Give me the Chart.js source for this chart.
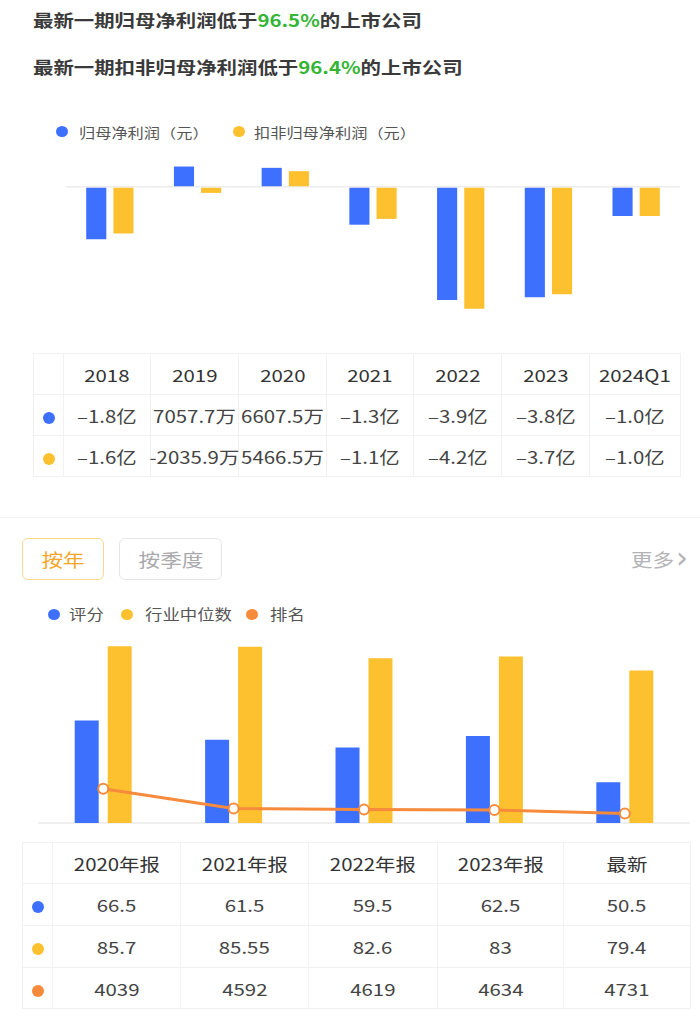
<!DOCTYPE html>
<html>
<head>
<meta charset="utf-8">
<script src="https://cdn.jsdelivr.net/npm/chart.js@4/dist/chart.umd.min.js"></script>
<style>
  body{margin:0;width:700px;height:1020px;background:#fff;position:relative;overflow:hidden;
       font-family:"Noto Sans CJK SC","Noto Sans",sans-serif;}
  .abs{position:absolute;white-space:nowrap;}
  .sx{display:inline-block;transform:scaleX(1.2);}
  .sxl{display:inline-block;transform:scaleX(1.2);transform-origin:0 50%;}
  .title{left:33px;font-size:17px;font-weight:bold;color:#3a3a3a;line-height:24px;}
  .title em{font-style:normal;color:#35b535;}
  .lg{font-size:13.5px;color:#555;line-height:20px;}
  .lg2{font-size:14.5px;color:#555;line-height:20px;}
  .dot{position:absolute;width:12px;height:11px;border-radius:50%;}
  table{position:absolute;border-collapse:collapse;table-layout:fixed;}
  td{border:1px solid #f1f1f1;text-align:center;padding:0;font-size:17px;color:#444;white-space:nowrap;overflow:visible;position:relative;}
  tr.hd td{color:#333;}
  td .cd{display:inline-block;width:12px;height:12px;border-radius:50%;vertical-align:middle;}
  .btn{position:absolute;top:538px;height:40px;border-radius:6px;font-size:18px;line-height:40px;text-align:center;}
</style>
</head>
<body>
<div class="abs title" style="top:8px"><span class="sxl">最新一期归母净利润低于<em>96.5%</em>的上市公司</span></div>
<div class="abs title" style="top:55px"><span class="sxl">最新一期扣非归母净利润低于<em>96.4%</em>的上市公司</span></div>

<!-- 图例：利润 -->
<div class="dot" style="left:56px;top:126px;background:#3d70fd"></div>
<div class="abs lg" style="left:79px;top:122px"><span class="sxl">归母净利润（元）</span></div>
<div class="dot" style="left:233px;top:126px;background:#fdc130"></div>
<div class="abs lg" style="left:254px;top:122px"><span class="sxl">扣非归母净利润（元）</span></div>

<div class="abs" style="left:0;top:150px;width:700px;height:190px"><canvas id="profitChart"></canvas></div>
<table id="profitTable" style="left:33px;top:353px"></table>

<div class="abs" style="left:0;top:517px;width:700px;height:1px;background:#f4f4f4"></div>

<div class="btn" style="left:22px;width:80px;border:1px solid #f8d88e;color:#f4a62a"><span class="sx">按年</span></div>
<div class="btn" style="left:119px;width:101px;border:1px solid #e6e6e8;color:#a9a9ad"><span class="sx">按季度</span></div>
<div class="abs" style="left:631px;top:546px;font-size:18px;line-height:26px;color:#b3b3b6"><span class="sxl">更多</span></div>
<div class="abs" style="left:676px;top:538px;font-size:30px;line-height:40px;color:#b3b3b6;font-family:'DejaVu Sans'">›</div>

<!-- 图例：评分 -->
<div class="dot" style="left:48px;top:609px;background:#3d70fd"></div>
<div class="abs lg2" style="left:69px;top:604px"><span class="sxl">评分</span></div>
<div class="dot" style="left:121px;top:609px;background:#fdc130"></div>
<div class="abs lg2" style="left:145px;top:604px"><span class="sxl">行业中位数</span></div>
<div class="dot" style="left:246px;top:609px;background:#f58b3b"></div>
<div class="abs lg2" style="left:270px;top:604px"><span class="sxl">排名</span></div>

<div class="abs" style="left:0;top:630px;width:700px;height:200px"><canvas id="scoreChart"></canvas></div>
<table id="scoreTable" style="left:22px;top:842px"></table>

<script>
// ---- 利润数据（单位：亿元）----
const profitYears = ["2018","2019","2020","2021","2022","2023","2024Q1"];
const netProfit = [-1.8, 0.70577, 0.66075, -1.3, -3.9, -3.8, -1.0];
const deductedProfit = [-1.6, -0.20359, 0.54665, -1.1, -4.2, -3.7, -1.0];
const profitAxisRange = [-5, 1];

// ---- 评分数据 ----
const scoreCats = ["2020年报","2021年报","2022年报","2023年报","最新"];
const scores = [66.5, 61.5, 59.5, 62.5, 50.5];
const industryMedian = [85.7, 85.55, 82.6, 83, 79.4];
const ranks = [4039, 4592, 4619, 4634, 4731];
const scoreAxisRange = [40, 86];
const rankAxisRange = [0, 5000];

const BLUE = "#3d70fd", YELLOW = "#fdc130", ORANGE = "#f58b3b";

function fmtYi(v){
  if(Math.abs(v) >= 1) return (v<0?"–":"") + Math.abs(v).toFixed(1) + "亿";
  return (v*10000).toFixed(1) + "万";
}

function buildTable(id, colWidths, rowHeights, header, rows){
  const t = document.getElementById(id);
  let html = "<colgroup>" + colWidths.map(w=>`<col style="width:${w}px">`).join("") + "</colgroup>";
  html += `<tr class="hd" style="height:${rowHeights[0]}px"><td></td>` +
    header.map(h=>`<td><span class="sx">${h}</span></td>`).join("") + "</tr>";
  rows.forEach((r,i)=>{
    html += `<tr style="height:${rowHeights[i+1]}px"><td><span class="cd" style="background:${r.color}"></span></td>` +
      r.cells.map(c=>`<td><span class="sx">${c}</span></td>`).join("") + "</tr>";
  });
  t.innerHTML = html;
}

buildTable("profitTable", [30,87,88,88,87,88,88,91], [41,41,41], profitYears, [
  {color:BLUE, cells:netProfit.map(fmtYi)},
  {color:YELLOW, cells:deductedProfit.map(fmtYi)},
]);
buildTable("scoreTable", [30,128,128,129,126,127], [41,42,42,41], scoreCats, [
  {color:BLUE, cells:scores.map(String)},
  {color:YELLOW, cells:industryMedian.map(String)},
  {color:ORANGE, cells:ranks.map(String)},
]);

// 只画某一个刻度值的网格线（零线 / 底线）
function onlyLineAt(val, color){
  return ctx => ctx.tick && ctx.tick.value === val ? color : "transparent";
}

new Chart(document.getElementById("profitChart"), {
  type:"bar",
  data:{
    labels:profitYears,
    datasets:[
      {label:"归母净利润（元）", data:netProfit, backgroundColor:BLUE},
      {label:"扣非归母净利润（元）", data:deductedProfit, backgroundColor:YELLOW},
    ]
  },
  options:{
    responsive:true, maintainAspectRatio:false, animation:false,
    categoryPercentage:0.62, barPercentage:0.74,
    layout:{padding:{left:66, right:20, top:8, bottom:8}},
    plugins:{legend:{display:false}, tooltip:{enabled:false}},
    scales:{
      x:{display:false},
      y:{min:profitAxisRange[0], max:profitAxisRange[1],
         ticks:{display:false, stepSize:1},
         border:{display:false},
         grid:{drawTicks:false, lineWidth:1.5, color:onlyLineAt(0, "#ececec")}}
    }
  }
});

new Chart(document.getElementById("scoreChart"), {
  data:{
    labels:scoreCats,
    datasets:[
      {type:"line", label:"排名", data:ranks, yAxisID:"y1", order:0,
       borderColor:ORANGE, borderWidth:3, pointRadius:5, pointBorderWidth:2,
       pointBackgroundColor:"#fff", pointBorderColor:ORANGE, tension:0},
      {type:"bar", label:"评分", data:scores, yAxisID:"y", backgroundColor:BLUE, order:1},
      {type:"bar", label:"行业中位数", data:industryMedian, yAxisID:"y", backgroundColor:YELLOW, order:1},
    ]
  },
  options:{
    responsive:true, maintainAspectRatio:false, animation:false,
    categoryPercentage:0.506, barPercentage:0.727,
    layout:{padding:{left:38, right:10, top:15, bottom:6}},
    plugins:{legend:{display:false}, tooltip:{enabled:false}},
    scales:{
      x:{display:false},
      y:{min:scoreAxisRange[0], max:scoreAxisRange[1],
         ticks:{display:false, stepSize:5},
         border:{display:false},
         grid:{drawTicks:false, lineWidth:2, color:onlyLineAt(scoreAxisRange[0], "#efefef")}},
      y1:{display:false, reverse:true, min:rankAxisRange[0], max:rankAxisRange[1]}
    }
  }
});
</script>
</body>
</html>
